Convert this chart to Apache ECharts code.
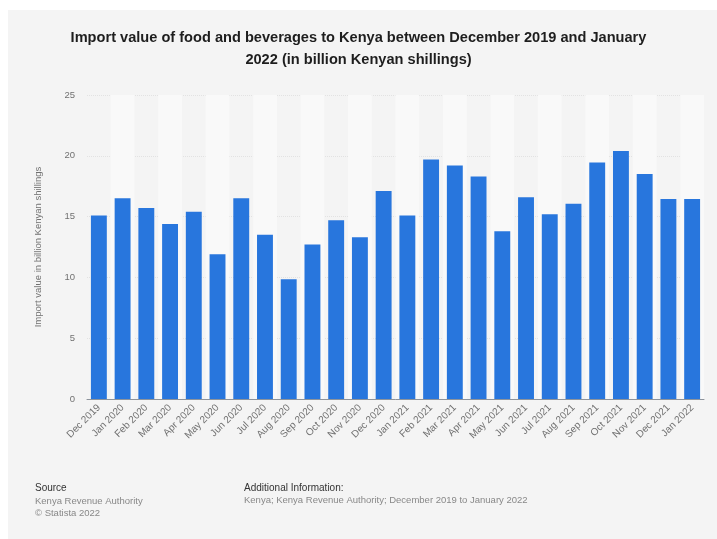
<!DOCTYPE html>
<html>
<head>
<meta charset="utf-8">
<script src="https://cdn.jsdelivr.net/npm/echarts@6/dist/echarts.min.js"></script>
<style>
  html, body { margin: 0; padding: 0; background: #fff; }
  #panel {
    position: absolute;
    left: 8px;
    top: 10px;
    width: 709px;
    height: 529px;
    background: #f4f4f4;
  }
  #chart {
    position: absolute;
    left: 0;
    top: 0;
    width: 717px;
    height: 539px;
  }
</style>
</head>
<body>
<div id="panel"></div>
<div id="chart"></div>
<script>
// months shown on the x axis
const months = [
  "Dec 2019", "Jan 2020", "Feb 2020", "Mar 2020", "Apr 2020", "May 2020",
  "Jun 2020", "Jul 2020", "Aug 2020", "Sep 2020", "Oct 2020", "Nov 2020",
  "Dec 2020", "Jan 2021", "Feb 2021", "Mar 2021", "Apr 2021", "May 2021",
  "Jun 2021", "Jul 2021", "Aug 2021", "Sep 2021", "Oct 2021", "Nov 2021",
  "Dec 2021", "Jan 2022"
];
// import value in billion KES
const importValue = [
  15.1, 16.5, 15.7, 14.4, 15.4, 11.9,
  16.5, 13.5, 9.85, 12.7, 14.7, 13.3,
  17.1, 15.1, 19.7, 19.2, 18.3, 13.8,
  16.6, 15.2, 16.05, 19.45, 20.4, 18.5,
  16.45, 16.45
];
const yTicks = [0, 5, 10, 15, 20, 25];

let myChart = echarts.init(document.getElementById("chart"));
let option = {
  backgroundColor: "transparent",
  textStyle: { fontFamily: "Liberation Sans, Arial, sans-serif" },
  title: {
    text: "Import value of food and beverages to Kenya between December 2019 and January\n2022 (in billion Kenyan shillings)",
    left: "center",
    top: 22,
    textStyle: {
      fontSize: 14.6,
      fontWeight: "bold",
      color: "#1e1e1e",
      lineHeight: 22
    }
  },
  grid: {
    left: 87,
    right: 13,
    top: 95,
    bottom: 140,
    containLabel: false
  },
  xAxis: {
    type: "category",
    data: months,
    axisTick: { show: false },
    axisLine: { lineStyle: { color: "#8e949c", width: 1 } },
    splitArea: {
      show: true,
      areaStyle: { color: ["rgba(0,0,0,0)", "#f9f9f9"] }
    },
    axisLabel: {
      rotate: 45,
      interval: 0,
      margin: 7,
      fontSize: 10,
      color: "#707070"
    }
  },
  yAxis: {
    type: "value",
    min: yTicks[0],
    max: yTicks[yTicks.length - 1],
    interval: 5,
    name: "Import value in billion Kenyan shillings",
    nameLocation: "middle",
    nameGap: 44,
    nameTextStyle: { fontSize: 9.5, color: "#707070" },
    axisLine: { show: false },
    axisTick: { show: false },
    splitLine: { lineStyle: { color: "#e2e2e2", type: "dotted" } },
    axisLabel: { fontSize: 9.5, color: "#707070", margin: 12 }
  },
  series: [
    {
      name: "Import value",
      type: "bar",
      data: importValue,
      barWidth: "67%",
      itemStyle: { color: "#2876dd" }
    }
  ],
  graphic: [
    {
      type: "text", left: 35, top: 483,
      style: { text: "Source", fill: "#333", font: "10px Liberation Sans" }
    },
    {
      type: "text", left: 35, top: 495,
      style: { text: "Kenya Revenue Authority\n© Statista 2022", fill: "#888", font: "9.5px Liberation Sans", lineHeight: 12 }
    },
    {
      type: "text", left: 244, top: 483,
      style: { text: "Additional Information:", fill: "#333", font: "10px Liberation Sans" }
    },
    {
      type: "text", left: 244, top: 495,
      style: { text: "Kenya; Kenya Revenue Authority; December 2019 to January 2022", fill: "#888", font: "9.5px Liberation Sans" }
    }
  ]
};
myChart.setOption(option);
window.addEventListener("resize", function () {
  myChart.resize();
});
</script>
</body>
</html>
